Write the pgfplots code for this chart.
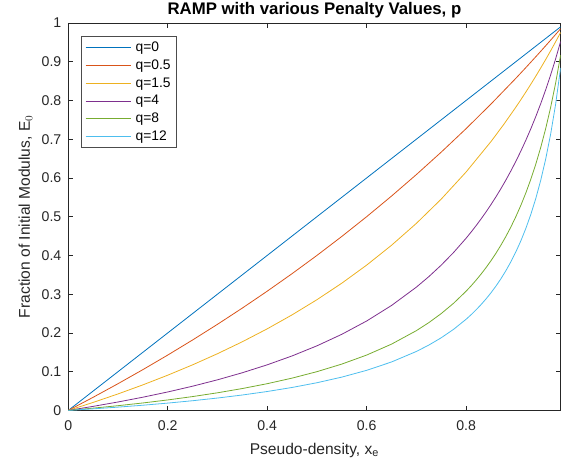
\documentclass[border=0pt]{standalone}
\usepackage{pgfplots}
\pgfplotsset{compat=1.18}
\usepackage{fontspec}
\setmainfont{Liberation Sans}
\definecolor{c1}{rgb}{0,0.447,0.741}
\definecolor{c2}{rgb}{0.85,0.325,0.098}
\definecolor{c3}{rgb}{0.929,0.694,0.125}
\definecolor{c4}{rgb}{0.494,0.184,0.556}
\definecolor{c5}{rgb}{0.466,0.674,0.188}
\definecolor{c6}{rgb}{0.301,0.745,0.933}
\definecolor{axgray}{rgb}{0.15,0.15,0.15}
\begin{document}
\begin{tikzpicture}
\begin{axis}[
  scale only axis,
  width=369.75pt, height=291pt,
  xmin=0, xmax=0.99, ymin=0, ymax=1,
  xtick={0,0.2,0.4,0.6,0.8},
  ytick={0,0.1,0.2,0.3,0.4,0.5,0.6,0.7,0.8,0.9,1},
  xticklabels={0,0.2,0.4,0.6,0.8},
  yticklabels={0,0.1,0.2,0.3,0.4,0.5,0.6,0.7,0.8,0.9,1},
  tick align=inside,
  major tick length=3.6pt,
  axis line style={axgray, line width=0.6pt},
  tick style={axgray, line width=0.6pt},
  ticklabel style={font=\fontsize{10.6}{12}\selectfont, text=axgray},
  yticklabel style={xshift=-1.7pt},
  xticklabel style={yshift=-4.5pt},
  xlabel={Pseudo-density, x$_\mathrm{e}$},
  ylabel={\rule{0pt}{19pt}Fraction of Initial Modulus, E$_0$},
  ylabel style={inner ysep=3.5pt},
  xlabel style={inner ysep=1pt, yshift=-4.2pt},
  label style={font=\fontsize{11.7}{13}\selectfont, text=axgray},
  title={\textbf{RAMP with various Penalty Values, p}},
  title style={font=\fontsize{12.6}{14}\selectfont, inner ysep=2pt, yshift=-4.7pt},
  legend style={at={(0,1)}, anchor=north west, xshift=9.5pt, yshift=-10pt,
    draw=gray!60!black, line width=0.6pt, font=\fontsize{10.4}{12}\selectfont,
    row sep=2.6pt, inner xsep=3pt, inner ysep=3pt,
    nodes={inner sep=1pt}},
  legend cell align=left,
  legend image code/.code={\draw[#1] (0cm,0cm) -- (1.19cm,0cm); \path (1.27cm,0cm);},
  every axis plot/.append style={line width=0.6pt},
]
\addplot[c1, draw=c1] coordinates {(0,0) (0.05,0.05) (0.1,0.1) (0.2,0.2) (0.3,0.3) (0.4,0.4) (0.5,0.5) (0.6,0.6) (0.7,0.7) (0.8,0.8) (0.9,0.9) (0.99,0.99)};
\addlegendentry{q=0}
\addplot[c2, draw=c2] coordinates {(0,0) (0.05,0.03390) (0.1,0.06897) (0.15,0.10526) (0.2,0.14286) (0.25,0.18182) (0.3,0.22222) (0.35,0.26415) (0.4,0.30769) (0.45,0.35294) (0.5,0.4) (0.55,0.44898) (0.6,0.5) (0.65,0.55319) (0.7,0.6087) (0.75,0.66667) (0.8,0.72727) (0.85,0.7907) (0.9,0.85714) (0.92,0.88462) (0.94,0.91262) (0.95,0.92683) (0.96,0.94118) (0.97,0.95567) (0.98,0.9703) (0.99,0.98507)};
\addlegendentry{q=0.5}
\addplot[c3, draw=c3] coordinates {(0,0) (0.05,0.02062) (0.1,0.04255) (0.15,0.06593) (0.2,0.09091) (0.25,0.11765) (0.3,0.14634) (0.35,0.17722) (0.4,0.21053) (0.45,0.24658) (0.5,0.28571) (0.55,0.32836) (0.6,0.375) (0.65,0.42623) (0.7,0.48276) (0.75,0.54545) (0.8,0.61538) (0.85,0.69388) (0.875,0.736842) (0.9,0.78261) (0.91,0.801762) (0.92,0.82143) (0.93,0.841629) (0.94,0.86239) (0.95,0.88372) (0.96,0.90566) (0.97,0.92823) (0.98,0.95146) (0.99,0.97537)};
\addlegendentry{q=1.5}
\addplot[c4, draw=c4] coordinates {(0,0) (0.05,0.010417) (0.1,0.021739) (0.15,0.034091) (0.2,0.047619) (0.25,0.0625) (0.3,0.078947) (0.35,0.097222) (0.4,0.117647) (0.45,0.140625) (0.5,0.166667) (0.55,0.196429) (0.6,0.230769) (0.65,0.270833) (0.7,0.318182) (0.725,0.345238) (0.75,0.375) (0.775,0.407895) (0.8,0.444444) (0.81,0.460227) (0.82,0.476744) (0.83,0.494048) (0.84,0.512195) (0.85,0.53125) (0.86,0.551282) (0.87,0.572368) (0.88,0.594595) (0.89,0.618056) (0.9,0.642857) (0.91,0.669118) (0.92,0.69697) (0.93,0.726563) (0.94,0.758065) (0.95,0.791667) (0.96,0.827586) (0.97,0.866071) (0.98,0.907407) (0.99,0.951923)};
\addlegendentry{q=4}
\addplot[c5, draw=c5] coordinates {(0,0) (0.05,0.005814) (0.1,0.012195) (0.15,0.019231) (0.2,0.027027) (0.25,0.035714) (0.3,0.045455) (0.35,0.056452) (0.4,0.068966) (0.45,0.083333) (0.5,0.1) (0.55,0.119565) (0.6,0.142857) (0.65,0.171053) (0.7,0.205882) (0.725,0.226563) (0.75,0.25) (0.775,0.276786) (0.8,0.307692) (0.81,0.321429) (0.82,0.336066) (0.83,0.351695) (0.84,0.368421) (0.85,0.386364) (0.86,0.40566) (0.87,0.426471) (0.88,0.44898) (0.89,0.473404) (0.9,0.5) (0.91,0.52907) (0.92,0.560976) (0.93,0.596154) (0.94,0.635135) (0.95,0.678571) (0.96,0.727273) (0.97,0.782258) (0.98,0.844828) (0.99,0.916667)};
\addlegendentry{q=8}
\addplot[c6, draw=c6] coordinates {(0,0) (0.05,0.004032) (0.1,0.008475) (0.15,0.013393) (0.2,0.018868) (0.25,0.025) (0.3,0.031915) (0.35,0.039773) (0.4,0.04878) (0.45,0.059211) (0.5,0.071429) (0.55,0.085938) (0.6,0.103448) (0.65,0.125) (0.7,0.152174) (0.725,0.168605) (0.75,0.1875) (0.775,0.209459) (0.8,0.235294) (0.81,0.246951) (0.82,0.259494) (0.83,0.273026) (0.84,0.287671) (0.85,0.303571) (0.86,0.320896) (0.87,0.339844) (0.88,0.360656) (0.89,0.383621) (0.9,0.409091) (0.91,0.4375) (0.92,0.469388) (0.93,0.505435) (0.94,0.546512) (0.95,0.59375) (0.96,0.648649) (0.97,0.713235) (0.98,0.790323) (0.99,0.883929)};
\addlegendentry{q=12}
\end{axis}
\end{tikzpicture}
\end{document}
